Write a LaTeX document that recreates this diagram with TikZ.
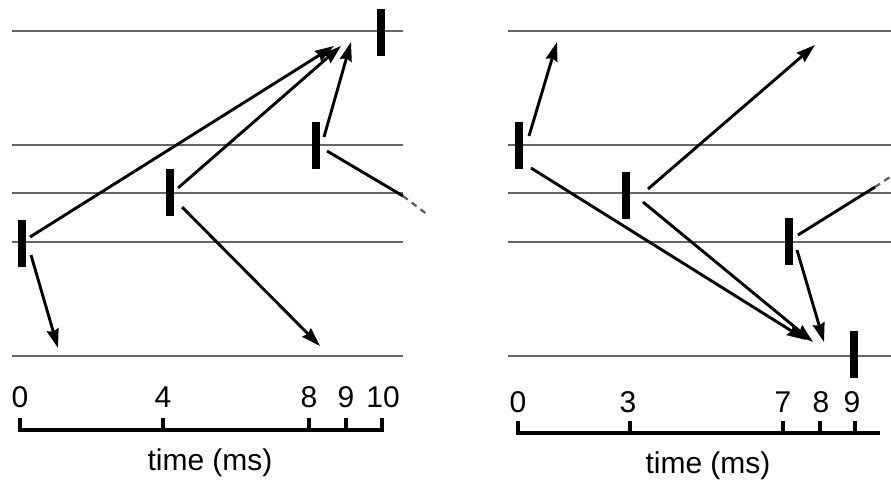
\documentclass[tikz,border=0pt]{standalone}
\usepackage{fontspec}
\setmainfont{Liberation Sans}
\usetikzlibrary{arrows.meta}
\begin{document}
\begin{tikzpicture}[x=1pt,y=-1pt,
  trace/.style={draw=black!60, line width=2.4pt},
  spike/.style={fill=black, draw=none, minimum width=8pt, minimum height=47pt, inner sep=0pt},
  msg/.style={draw=black, line width=2.9pt, -{Stealth[length=19pt,width=12pt,inset=2pt]}},
  plain/.style={draw=black, line width=2.9pt},
  ext/.style={draw=black!65, line width=2.2pt, dash pattern=on 6pt off 5pt},
  axis/.style={draw=black, line width=3.2pt},
  lab/.style={font=\fontsize{30}{36}\selectfont, anchor=base, inner sep=0pt}]
\useasboundingbox (0,0) rectangle (891,482);
% ---------- left panel ----------
\foreach \y in {31,145,193,242,356} \draw[trace] (12,\y) -- (403,\y);
\node[spike] (A) at (22,243) {};
\node[spike] (B) at (170,192) {};
\node[spike] (C) at (316,145) {};
\node[spike] (D) at (381,32) {};
\coordinate (a1) at (30,237);
\coordinate (a2) at (31,255);
\coordinate (b1) at (178,188);
\coordinate (b2) at (182,207);
\coordinate (c1) at (324,137);
\coordinate (c2) at (327,151);
\coordinate (t1) at (334,46);
\coordinate (t2) at (341,46);
\coordinate (t3) at (351,42);
\coordinate (t4) at (58,348);
\coordinate (t5) at (320,346);
\coordinate (e1) at (403,196);
\coordinate (e2) at (428,215);
\draw[msg] (a1) -- (t1);
\draw[msg] (b1) -- (t2);
\draw[msg] (c1) -- (t3);
\draw[msg] (a2) -- (t4);
\draw[msg] (b2) -- (t5);
\draw[plain] (c2) -- (e1);
\draw[ext] (e1) -- (e2);
% axis left
\draw[axis] (20,418) -- (20,430) -- (382,430) -- (382,418);
\foreach \x in {163,309,346} \draw[axis] (\x,418) -- (\x,430);
\node[lab] at (20,407) {0};
\node[lab] at (163,407) {4};
\node[lab] at (309,407) {8};
\node[lab] at (346,407) {9};
\node[lab] at (383,407) {10};
\node[lab] at (210,470) {time (ms)};
% ---------- right panel ----------
\foreach \y in {31,145,193,242,356} \draw[trace] (508,\y) -- (891,\y);
\node[spike] (E) at (519,145) {};
\node[spike] (F) at (626,195) {};
\node[spike] (G) at (789,241) {};
\node[spike] (H) at (854,354) {};
\coordinate (f1) at (529,136);
\coordinate (f2) at (531,168);
\coordinate (g1) at (648,189);
\coordinate (g2) at (643,202);
\coordinate (h1) at (798,235);
\coordinate (h2) at (797,250);
\coordinate (u1) at (557,42);
\coordinate (u2) at (806,340);
\coordinate (u3) at (815,45);
\coordinate (u4) at (813,342);
\coordinate (u5) at (824,342);
\coordinate (x1) at (875,187);
\coordinate (x2) at (893,175);
\draw[msg] (f1) -- (u1);
\draw[msg] (f2) -- (u2);
\draw[msg] (g1) -- (u3);
\draw[msg] (g2) -- (u4);
\draw[msg] (h2) -- (u5);
\draw[plain] (h1) -- (x1);
\draw[ext] (x1) -- (x2);
% axis right
\draw[axis] (518,421) -- (518,433) -- (880,433);
\foreach \x in {630,783,820,855} \draw[axis] (\x,421) -- (\x,433);
\node[lab] at (518,412) {0};
\node[lab] at (628,412) {3};
\node[lab] at (783,412) {7};
\node[lab] at (821,412) {8};
\node[lab] at (852,412) {9};
\node[lab] at (708,473) {time (ms)};
\end{tikzpicture}
\end{document}
